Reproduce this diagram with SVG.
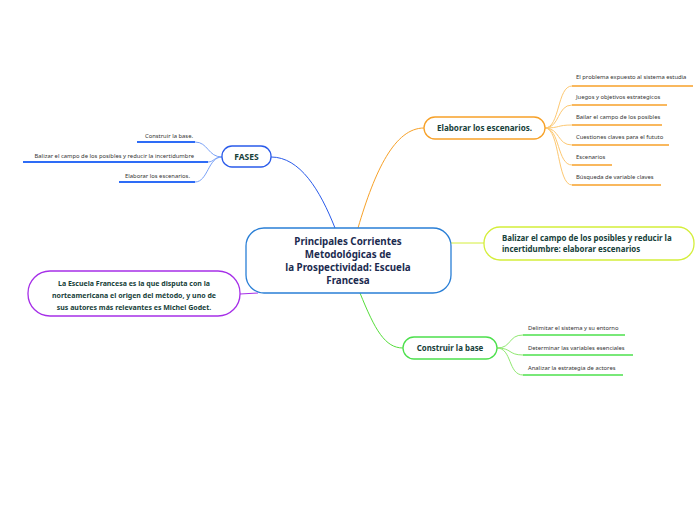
<svg xmlns="http://www.w3.org/2000/svg" width="696" height="520" viewBox="0 0 696 520">
<style>
text{font-family:"Noto Sans","Open Sans","DejaVu Sans",sans-serif}
.t{font-weight:bold;fill:#17413a}
.c{font-size:5.85px;fill:#333}
.n{fill:#fff;stroke-width:1.3}
.l{fill:none;stroke-width:1}
</style>
<rect width="696" height="520" fill="#fff"/>
<g id="connectors">
<path class="l" d="M335,228 C320,190 300,157 271,157" stroke="#2a5bea" stroke-width="1.5"/>
<path class="l" d="M358,228 C375,170 395,128 424,128" stroke="#f7a128" stroke-width="1.5"/>
<path class="l" d="M451,243 L484,243" stroke="#d4ee3a" stroke-width="1.5"/>
<path class="l" d="M360,293 C375,330 385,348 403,348" stroke="#55dd3a" stroke-width="1.5"/>
<path class="l" d="M240,294 L258,293" stroke="#a62fe8" stroke-width="1.5"/>
<g stroke="#7aa2f7">
<path class="l" d="M222,157 C208,157 208,142 195,142"/>
<path class="l" d="M222,157 C214,157 214,162 208,162"/>
<path class="l" d="M222,157 C208,157 208,182 195,182"/>
</g>
<g stroke="#fdc872">
<path class="l" d="M545,128 C560,128 557,86 572,86"/>
<path class="l" d="M545,128 C560,128 557,105 572,105"/>
<path class="l" d="M545,128 C560,128 557,125 572,125"/>
<path class="l" d="M545,128 C560,128 557,145 572,145"/>
<path class="l" d="M545,128 C560,128 557,165 572,165"/>
<path class="l" d="M545,128 C560,128 557,185 572,185"/>
</g>
<g stroke="#8fe870">
<path class="l" d="M497,348 C512,348 508,335 523,335"/>
<path class="l" d="M497,348 C512,348 508,355 523,355"/>
<path class="l" d="M497,348 C512,348 508,375 523,375"/>
</g>
</g>
<g id="central">
<rect class="n" x="246" y="228" width="205" height="65" rx="18" stroke="#2a7fd6"/>
<g class="t" font-size="9.8" text-anchor="middle" style="fill:#1c2b4f">
<text x="348" y="245">Principales Corrientes</text>
<text x="348" y="258">Metodológicas de</text>
<text x="348" y="271">la Prospectividad: Escuela</text>
<text x="348" y="284">Francesa</text>
</g>
</g>
<g id="fases">
<rect class="n" x="222" y="146" width="49" height="21" rx="10" stroke="#2a5bea"/>
<text class="t" x="246.5" y="160" font-size="8.5" text-anchor="middle">FASES</text>
</g>
<g id="fases-children" text-anchor="end">
<text class="c" x="193" y="138">Construir la base.</text>
<path d="M137,142 H195" stroke="#2e6cf6" stroke-width="2"/>
<text class="c" x="194" y="158">Balizar el campo de los posibles y reducir la incertidumbre</text>
<path d="M23,162 H208" stroke="#2e6cf6" stroke-width="2"/>
<text class="c" x="190" y="178">Elaborar los escenarios.</text>
<path d="M119,182 H195" stroke="#2e6cf6" stroke-width="2"/>
</g>
<g id="elaborar">
<rect class="n" x="424" y="117" width="121" height="22" rx="11" stroke="#f7a128"/>
<text class="t" x="484.5" y="131" font-size="8.1" text-anchor="middle">Elaborar los escenarios.</text>
</g>
<g id="elaborar-children">
<text class="c" x="576" y="79">El problema expuesto al sistema estudia</text>
<path d="M572,86 H693" stroke="#f7a128" stroke-width="1.5"/>
<text class="c" x="576" y="99">Juegos y objetivos estrategicos</text>
<path d="M572,105 H667" stroke="#f7a128" stroke-width="1.5"/>
<text class="c" x="576" y="119">Bailar el campo de los posibles</text>
<path d="M572,125 H662" stroke="#f7a128" stroke-width="1.5"/>
<text class="c" x="576" y="139">Cuestiones claves para el fututo</text>
<path d="M572,145 H669" stroke="#f7a128" stroke-width="1.5"/>
<text class="c" x="576" y="159">Escenarios</text>
<path d="M572,165 H612" stroke="#f7a128" stroke-width="1.5"/>
<text class="c" x="576" y="179">Búsqueda de variable claves</text>
<path d="M572,185 H661" stroke="#f7a128" stroke-width="1.5"/>
</g>
<g id="balizar">
<rect class="n" x="484" y="227" width="210" height="33" rx="16" stroke="#d4ee3a"/>
<text class="t" x="502" y="241" font-size="7.9">Balizar el campo de los posibles y reducir la</text>
<text class="t" x="502" y="252" font-size="7.9">incertidumbre: elaborar escenarios</text>
</g>
<g id="construir">
<rect class="n" x="403" y="337" width="94" height="22" rx="11" stroke="#4ce04c"/>
<text class="t" x="450" y="351" font-size="7.9" text-anchor="middle">Construir la base</text>
</g>
<g id="construir-children">
<text class="c" x="528" y="330">Delimitar el sistema y su entorno</text>
<path d="M523,335 H625" stroke="#4ce04c" stroke-width="1.5"/>
<text class="c" x="528" y="350">Determinar las variables esenciales</text>
<path d="M523,355 H633" stroke="#4ce04c" stroke-width="1.5"/>
<text class="c" x="528" y="370">Analizar la estrategia de actores</text>
<path d="M523,375 H623" stroke="#4ce04c" stroke-width="1.5"/>
</g>
<g id="escuela">
<rect class="n" x="28" y="271" width="212" height="45" rx="22" stroke="#a62fe8"/>
<g class="t" font-size="7" text-anchor="middle">
<text x="134" y="286">La Escuela Francesa es la que disputa con la</text>
<text x="134" y="298">norteamericana el origen del método, y uno de</text>
<text x="134" y="310">sus autores más relevantes es Michel Godet.</text>
</g>
</g>
</svg>
